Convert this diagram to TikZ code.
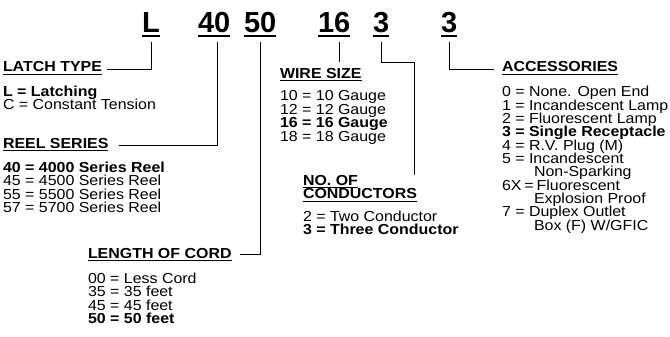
\documentclass[tikz,border=0pt]{standalone}
\usepackage{fontspec}
\setmainfont{Liberation Sans}[FakeStretch=1.1]
\newfontfamily\codefont{Liberation Sans}
\begin{document}
\begin{tikzpicture}[x=1pt,y=-1pt,
  txt/.style={inner sep=0pt, outer sep=0pt, anchor=base west, font=\fontsize{14.5}{14.5}\selectfont},
  btxt/.style={txt, font=\fontsize{14.5}{14.5}\selectfont\bfseries},
  codetxt/.style={inner sep=0pt, outer sep=0pt, anchor=base west, font=\codefont\fontsize{29}{29}\selectfont\bfseries},
  conn/.style={line width=0.9pt},
  ulthin/.style={line width=1.3pt},
  ulthick/.style={line width=2.2pt}]
\useasboundingbox (0,0) rectangle (670,337);

% code row
\node[codetxt] (cL)  at (142,33) {L};
\node[codetxt] (c40) at (198,33) {40};
\node[codetxt] (c50) at (244,33) {50};
\node[codetxt] (c16) at (318,33) {16};
\node[codetxt] (c3a) at (373,33) {3};
\node[codetxt] (c3b) at (441,33) {3};
\foreach \n in {cL,c40,c50,c16,c3a,c3b}
  \draw[ulthick] ([yshift=-3pt]\n.base west) -- ([yshift=-3pt]\n.base east);

% headings
\node[btxt] (hLatch) at (3,72)    {LATCH TYPE};
\node[btxt] (hReel)  at (3,148)   {REEL SERIES};
\node[btxt] (hLen)   at (88,258)  {LENGTH OF CORD};
\node[btxt] (hWire)  at (280,78)  {WIRE SIZE};
\node[btxt] (hNo)    at (303,185) {NO. OF};
\node[btxt] (hCond)  at (303,198.5) {CONDUCTORS};
\node[btxt] (hAcc)   at (502,72)  {ACCESSORIES};
\foreach \n in {hLatch,hReel,hLen,hWire,hNo,hCond,hAcc}
  \draw[ulthin] ([yshift=-2.7pt]\n.base west) -- ([yshift=-2.7pt]\n.base east);

% latch type
\node[btxt] (l1) at (3,96)    {L = Latching};
\node[txt]  (l2) at (3,109.5) {C = Constant Tension};

% reel series
\node[btxt] (r1) at (3,172)   {40 = 4000 Series Reel};
\node[txt]  (r2) at (3,185.5) {45 = 4500 Series Reel};
\node[txt]  (r3) at (3,199)   {55 = 5500 Series Reel};
\node[txt]  (r4) at (3,212.5) {57 = 5700 Series Reel};

% length of cord
\node[txt]  (o1) at (88,283)   {00 = Less Cord};
\node[txt]  (o2) at (88,296.5) {35 = 35 feet};
\node[txt]  (o3) at (88,310)   {45 = 45 feet};
\node[btxt] (o4) at (88,323.5) {50 = 50 feet};

% wire size
\node[txt]  (w1) at (280,101)   {10 = 10 Gauge};
\node[txt]  (w2) at (280,114.5) {12 = 12 Gauge};
\node[btxt] (w3) at (280,128)   {16 = 16 Gauge};
\node[txt]  (w4) at (280,141.5) {18 = 18 Gauge};

% conductors
\node[txt]  (n1) at (303,221)   {2 = Two Conductor};
\node[btxt] (n2) at (303,234.5) {3 = Three Conductor};

% accessories
\node[txt]  (a0)  at (502,97)    {0 = None. Open End};
\node[txt]  (a1)  at (502,110.3) {1 = Incandescent Lamp};
\node[txt]  (a2)  at (502,123.6) {2 = Fluorescent Lamp};
\node[btxt] (a3)  at (502,136.9) {3 = Single Receptacle};
\node[txt]  (a4)  at (502,150.2) {4 = R.V. Plug (M)};
\node[txt]  (a5)  at (502,163.5) {5 = Incandescent};
\node[txt]  (a5b) at (534,176.8) {Non-Sparking};
\node[txt]  (a6)  at (502,190.1) {6X\hspace{0.2em}=\hspace{0.2em}Fluorescent};
\node[txt]  (a6b) at (534,203.4) {Explosion Proof};
\node[txt]  (a7)  at (502,216.7) {7 = Duplex Outlet};
\node[txt]  (a7b) at (534,230)   {Box (F) W/GFIC};

% connector end points
\coordinate (kL)  at ([xshift=1pt,yshift=-9pt]cL.south);
\coordinate (k40) at ([xshift=3pt,yshift=-9pt]c40.south);
\coordinate (k50) at ([xshift=0pt,yshift=-9pt]c50.south);
\coordinate (k16) at ([xshift=5pt,yshift=-9pt]c16.south);
\coordinate (k3a) at ([xshift=0pt,yshift=-9pt]c3a.south);
\coordinate (k3b) at ([xshift=0pt,yshift=-9pt]c3b.south);

\coordinate (eLatch) at ([shift={(5pt,3pt)}]hLatch.base east);
\coordinate (eReel)  at ([shift={(11pt,3pt)}]hReel.base east);
\coordinate (eLen)   at ([shift={(8pt,4pt)}]hLen.base east);
\coordinate (eWire)  at ([yshift=6pt]hWire.north);
\coordinate (eAcc)   at ([shift={(-8pt,3pt)}]hAcc.base west);
\coordinate (eCond)  at ([shift={(-3pt,1.5pt)}]hCond.north east);
\coordinate (mid3a)  at ([yshift=-29pt]c3a.south);

% connectors
\draw[conn] (kL)  |- (eLatch);
\draw[conn] (k40) |- (eReel);
\draw[conn] (k50) |- (eLen);
\draw[conn] (k16) -- (k16 |- eWire);
\draw[conn] (k3a) -- (mid3a) -| (eCond |- hNo.north);
\draw[conn] (k3b) |- (eAcc);
\end{tikzpicture}
\end{document}
